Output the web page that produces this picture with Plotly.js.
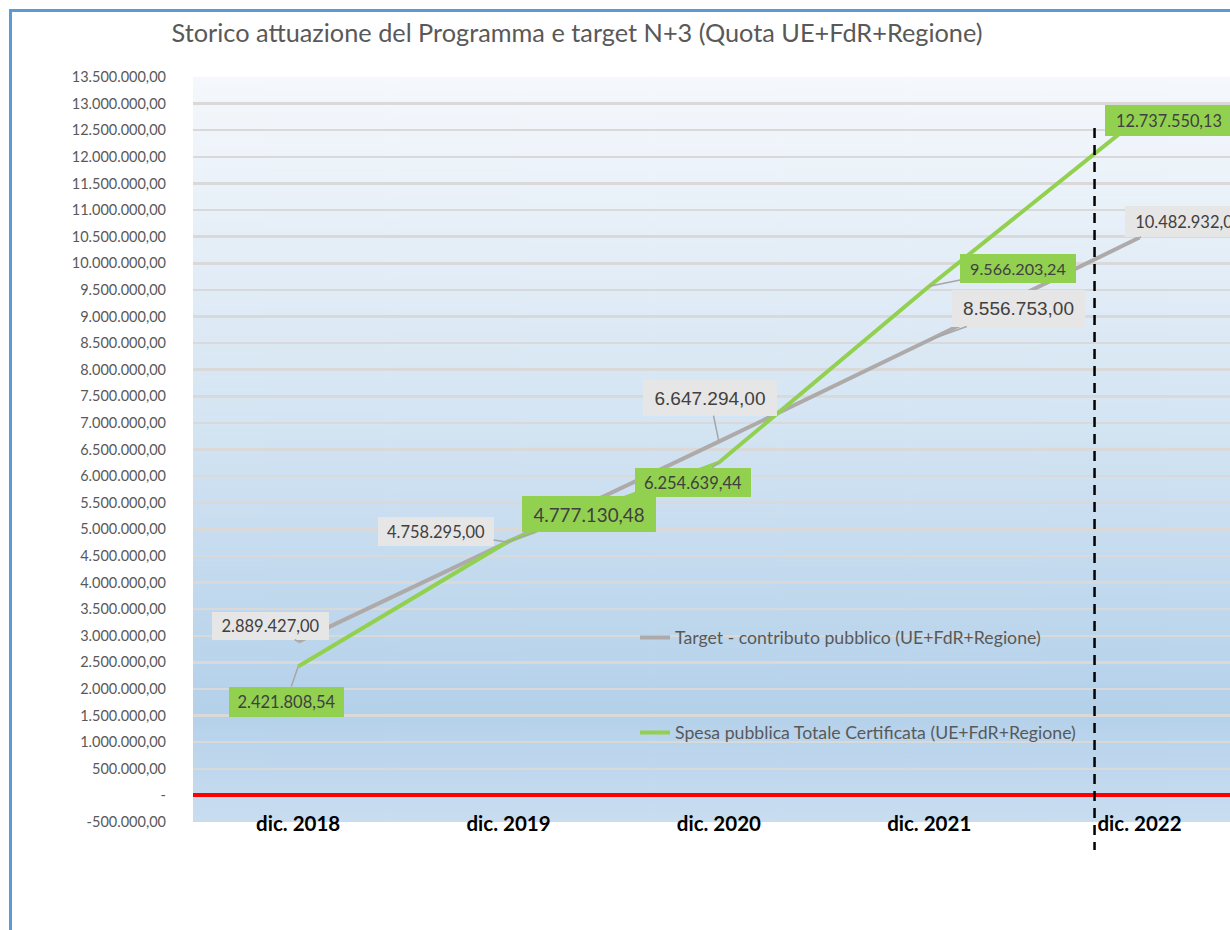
<!DOCTYPE html>
<html><head><meta charset="utf-8">
<script src="https://cdn.plot.ly/plotly-3.0.1.min.js"></script>
<style>
html,body{margin:0;padding:0;overflow:hidden;background:#fff;}
#wrap{position:relative;width:1230px;height:930px;}
#chart{position:absolute;left:0;top:0;width:1230px;height:930px;}
#frame{position:absolute;left:9px;top:9px;width:1400px;height:1200px;border:3px solid #5b9bd5;pointer-events:none;box-sizing:border-box;}
</style></head>
<body><div id="wrap"><div id="chart"></div><div id="frame"></div></div>
<script>
// ---- data ----
const categories = ['dic. 2018','dic. 2019','dic. 2020','dic. 2021','dic. 2022'];
const targetValues = [2889427.00, 4758295.00, 6647294.00, 8556753.00, 10482932.00];
const spesaValues = [2421808.54, 4777130.48, 6254639.44, 9566203.24, 12737550.13];
const targetLabels = ['2.889.427,00','4.758.295,00','6.647.294,00','8.556.753,00','10.482.932,00'];
const spesaLabels = ['2.421.808,54','4.777.130,48','6.254.639,44','9.566.203,24','12.737.550,13'];
const yTickVals = [-500000,0,500000,1000000,1500000,2000000,2500000,3000000,3500000,4000000,4500000,5000000,5500000,6000000,6500000,7000000,7500000,8000000,8500000,9000000,9500000,10000000,10500000,11000000,11500000,12000000,12500000,13000000,13500000];
const yTickText = ['-500.000,00','-','500.000,00','1.000.000,00','1.500.000,00','2.000.000,00','2.500.000,00','3.000.000,00','3.500.000,00','4.000.000,00','4.500.000,00','5.000.000,00','5.500.000,00','6.000.000,00','6.500.000,00','7.000.000,00','7.500.000,00','8.000.000,00','8.500.000,00','9.000.000,00','9.500.000,00','10.000.000,00','10.500.000,00','11.000.000,00','11.500.000,00','12.000.000,00','12.500.000,00','13.000.000,00','13.500.000,00'];
const targetName = 'Target - contributo pubblico (UE+FdR+Regione)';
const spesaName = 'Spesa pubblica Totale Certificata (UE+FdR+Regione)';
const titleText = 'Storico attuazione del Programma e target N+3 (Quota UE+FdR+Regione)';
const deadlineX = 3.786; // position of dashed N+3 marker on category index scale

// ---- styles (label placement) ----
const FONT = 'Lato, "Open Sans", sans-serif';
const ARIAL = '"Liberation Sans", Arial, sans-serif';
const targetStyle = [
  {ax:-28, ay:-16, w:117, h:28, size:16.5, fam:FONT},
  {ax:-73, ay:-11, w:116, h:29, size:16.5, fam:FONT},
  {ax:-9,  ay:-44, w:134, h:36, size:19, fam:ARIAL},
  {ax:89,  ay:-32, w:133, h:37, size:19, fam:ARIAL},
  {ax:49,  ay:-16, w:128, h:31, size:16.5, fam:FONT}
];
const spesaStyle = [
  {ax:-12, ay:35, w:115, h:30, size:16.5, fam:FONT},
  {ax:80,  ay:-27, w:134, h:36, size:18.8, fam:FONT},
  {ax:-26, ay:20, w:116, h:29, size:16.5, fam:FONT},
  {ax:89,  ay:-18, w:116, h:29, size:16.2, fam:FONT},
  {ax:29,  ay:3,  w:128, h:31, size:16.3, fam:FONT}
];

function makeAnn(xs, ys, labels, styles, bg){
  return xs.map((c,i)=>({
    x:c, y:ys[i], xref:'x', yref:'y', text:labels[i],
    showarrow:true, arrowhead:0, arrowwidth:1.5, arrowcolor:'#a6a6a6',
    ax:styles[i].ax, ay:styles[i].ay, standoff:0, startstandoff:0,
    bgcolor:bg, borderwidth:0, borderpad:0, width:styles[i].w, height:styles[i].h,
    align:'center', valign:'middle',
    font:{family:styles[i].fam, size:styles[i].size, color:'#404040'}
  }));
}

// gradient background image
const cv = document.createElement('canvas');
cv.width = 8; cv.height = 745;
const cx = cv.getContext('2d');
const g = cx.createLinearGradient(0,0,0,745);
g.addColorStop(0,'#f5f8fc');
g.addColorStop(0.45,'#d5e5f3');
g.addColorStop(0.85,'#b4d1ea');
g.addColorStop(1,'#c9ddf0');
cx.fillStyle = g; cx.fillRect(0,0,8,745);
const bgURL = cv.toDataURL('image/png');

const traces = [
  {x:categories, y:targetValues, type:'scatter', mode:'lines', name:targetName,
   line:{color:'#aeaaaa', width:4}, legend:'legend', hoverinfo:'skip'},
  {x:categories, y:spesaValues, type:'scatter', mode:'lines', name:spesaName,
   line:{color:'#92d050', width:4}, legend:'legend2', hoverinfo:'skip'}
];

const layout = {
  width:1230, height:930,
  margin:{l:193, r:0, t:77, b:108},
  paper_bgcolor:'rgba(0,0,0,0)', plot_bgcolor:'rgba(0,0,0,0)',
  title:{text:titleText, x:577/1230, xref:'container', xanchor:'center', y:1-33/930, yanchor:'middle',
         font:{family:FONT, size:25.3, color:'#595959'}},
  xaxis:{type:'category', range:[-0.5, 4.43], showgrid:false, zeroline:false, showline:false,
         ticks:'', ticklabelstandoff:-13,
         tickfont:{family:FONT, size:20.5, color:'#000000', weight:'bold'}},
  yaxis:{range:[-500000, 13500000], tickvals:yTickVals, ticktext:yTickText,
         showgrid:true, gridcolor:'#d9d9d9', gridwidth:2.5,
         zeroline:true, zerolinecolor:'#ff0000', zerolinewidth:4,
         showline:false, ticks:'', ticklabelstandoff:26,
         tickfont:{family:FONT, size:14.5, color:'#595959'}},
  legend:{x:(635-193)/1037, y:(822-638)/745, xanchor:'left', yanchor:'middle', bgcolor:'rgba(0,0,0,0)',
          font:{family:FONT, size:17.7, color:'#595959'}},
  legend2:{x:(635-193)/1037, y:(822-733)/745, xanchor:'left', yanchor:'middle', bgcolor:'rgba(0,0,0,0)',
          font:{family:FONT, size:17.7, color:'#595959'}},
  images:[{source:bgURL, xref:'paper', yref:'paper', x:0, y:1, sizex:1, sizey:1,
           xanchor:'left', yanchor:'top', sizing:'stretch', layer:'below'}],
  shapes:[{type:'line', xref:'x', yref:'paper', x0:deadlineX, x1:deadlineX, y0:(822-128)/745, y1:(822-850)/745,
           line:{color:'#000000', width:2.5, dash:'10px,7px'}}],
  annotations:[].concat(
    makeAnn(categories, targetValues, targetLabels, targetStyle, '#e7e6e6'),
    makeAnn(categories, spesaValues, spesaLabels, spesaStyle, '#92d050')
  ),
  showlegend:true
};

Plotly.newPlot('chart', traces, layout, {displayModeBar:false, staticPlot:true});
</script>
</body></html>
